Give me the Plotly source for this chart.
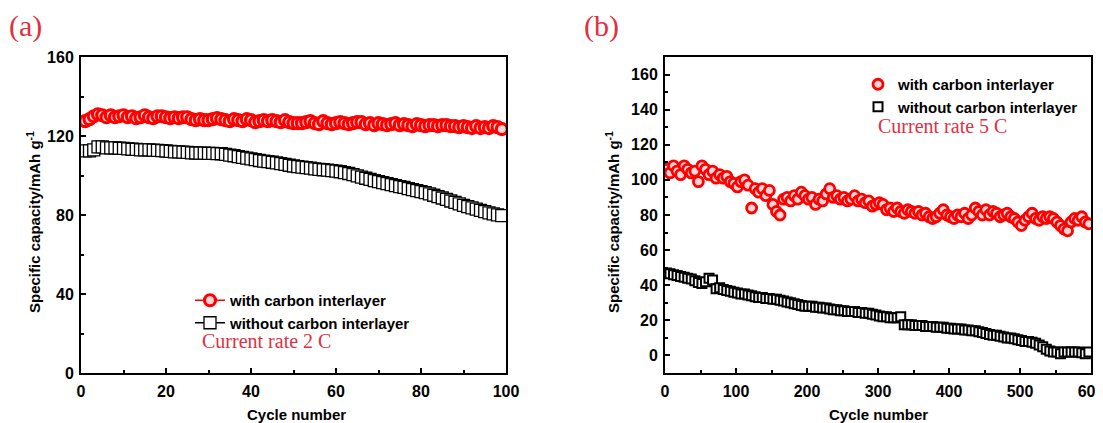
import plotly.graph_objects as go

# ---------------- Panel (a): 2 C ----------------
cycles_a = list(range(1, 100))
with_a = [127.5, 128.5, 130, 131, 130.5, 129.5, 130.5, 129.5, 130, 130.5,
          129.5, 130, 129, 129.5, 130.5, 129.5, 129, 130, 130, 129.5,
          129, 129.5, 129, 129.5, 129.5, 128.5, 128, 128.5, 128, 128,
          128.5, 129, 128.5, 128, 127.5, 128.5, 128, 127.5, 128.5, 128,
          127, 127.5, 128, 127.5, 128, 127.5, 127, 128, 127, 126.5,
          126.5, 126.5, 127, 127.5, 126.5, 126, 127.5, 126.5, 126, 126.5,
          127, 126.5, 126, 126.5, 127, 127, 126, 126.5, 125.5, 126.5,
          126, 125.5, 126, 126.5, 125.5, 126, 125.5, 125, 126, 125.5,
          125, 125.5, 125.5, 125, 125.5, 125.5, 125, 125, 124.5, 125,
          124.5, 124, 125, 124, 124.5, 124, 125, 124.5, 123.5]
without_a = [112.5, 112.5, 113, 114.5, 114.5, 114, 114, 114, 113.8, 113.7,
             113.5, 113.3, 113.2, 113, 113, 113, 112.8, 112.7, 112.6, 112.4,
             112.2, 112, 112, 111.8, 111.7, 111.5, 111.4, 111.3, 111.3, 111.2,
             111.2, 111.1, 111, 110.7, 110.3, 110, 109.6, 109.2, 108.8, 108.4,
             108, 107.6, 107.3, 107, 106.7, 106.4, 106, 105.6, 105.2, 104.8,
             104.5, 104.2, 104, 103.7, 103.4, 103.1, 102.9, 102.7, 102.5, 102.2,
             101.9, 101.5, 101, 100.4, 99.8, 99.2, 98.6, 98, 97.4, 96.9,
             96.4, 95.9, 95.4, 94.9, 94.4, 94, 93.4, 92.8, 92.3, 91.8,
             91.3, 90.7, 90, 89.3, 88.6, 87.9, 87.1, 86.4, 85.6, 84.9,
             84.2, 83.6, 83, 82.3, 81.7, 81.1, 80.6, 80.1, 79.7]

# ---------------- Panel (b): 5 C ----------------
cycles_b = list(range(2, 600, 5))
with_b = [106, 104, 108, 105, 103, 108, 106, 104, 105, 99,
          108, 106, 103, 105, 101, 103, 101, 102, 99, 98,
          96, 99, 100, 97, 84, 95, 93, 95, 91, 94,
          86, 82, 80, 89, 90, 88, 91, 89, 93, 91,
          89, 90, 86, 89, 88, 92, 95, 90, 91, 89,
          90, 88, 89, 91, 88, 89, 87, 88, 85, 86,
          87, 86, 83, 84, 82, 84, 82, 81, 83, 82,
          81, 82, 80, 81, 79, 78, 79, 81, 83, 80,
          79, 78, 80, 79, 81, 78, 80, 84, 82, 80,
          83, 80, 82, 81, 79, 80, 81, 79, 78, 76,
          74, 77, 79, 81, 78, 77, 79, 78, 79, 78,
          76, 74, 72, 71, 76, 78, 77, 79, 76, 75]
without_b = [47, 46.5, 46, 45.5, 45, 44.5, 44, 43.5, 42.5, 41.5,
             41, 42, 44, 43, 38, 38.5, 37.5, 37, 36.5, 36,
             35.5, 35, 35, 34.5, 34, 33.5, 33, 33, 32.5, 32.5,
             32, 32, 31.5, 31, 30.5, 30, 29.5, 29, 28.5, 28,
             28, 28, 27.5, 27.5, 27, 27, 26.5, 26, 26, 25.5,
             25.5, 25, 25, 25, 24.5, 24.5, 24, 24, 23.5, 23,
             22.5, 22, 22, 21.5, 21.5, 21.5, 22, 17.5, 17.5, 17.5,
             17, 17, 17, 16.5, 16.5, 16.5, 16, 16, 16, 15.5,
             15.5, 15, 15, 15, 14.5, 14.5, 14, 14, 13.5, 13,
             12.5, 12, 11.5, 11.5, 11, 10.5, 10, 10, 9.5, 9,
             8.5, 8, 8, 7.5, 7, 6, 5, 3.5, 2.5, 2,
             2, 1, 2, 2, 2, 2, 2, 1.5, 1, 2]

names = ["with carbon interlayer", "without carbon interlayer"]
panel_labels = ["(a)", "(b)"]
rate_labels = ["Current rate 2 C", "Current rate 5 C"]
x_title = "Cycle number"
y_title = "Specific capacity/mAh g<sup>-1</sup>"

# page body has an 8px margin -> shift everything up/left by it
OFF = 8
W, H = 1103 - OFF, 423 - OFF
ML = 81 - OFF
MT = 57 - OFF
MR = W - (1091 - OFF)
MB = H - (373 - OFF)
PW, PH = W - ML - MR, H - MT - MB


def px(x):
    return (x - OFF - ML) / PW


def py(y):
    return (H - MB - (y - OFF)) / PH


RED = "#ff0000"
TXT_RED = "#e0303f"
SANS = "Liberation Sans, Arial, sans-serif"
SERIF = "Liberation Serif, Times New Roman, serif"

fig = go.Figure()

fig.add_trace(go.Scatter(
    x=cycles_a, y=with_a, name=names[0], mode="lines+markers",
    line=dict(color=RED, width=1.5),
    marker=dict(symbol="circle", size=11, color="#ffd6d6", line=dict(color=RED, width=3.2)),
    xaxis="x", yaxis="y", legend="legend"))
fig.add_trace(go.Scatter(
    x=cycles_a, y=without_a, name=names[1], mode="lines+markers",
    line=dict(color="black", width=1.5),
    marker=dict(symbol="square", size=12, color="white", line=dict(color="black", width=1.3)),
    xaxis="x", yaxis="y", legend="legend"))

fig.add_trace(go.Scatter(
    x=cycles_b, y=with_b, name=names[0], mode="markers",
    marker=dict(symbol="circle", size=10, color="#ffd6d6", line=dict(color=RED, width=2.8)),
    xaxis="x2", yaxis="y2", legend="legend2"))
fig.add_trace(go.Scatter(
    x=cycles_b, y=without_b, name=names[1], mode="markers",
    marker=dict(symbol="square", size=9, color="white", line=dict(color="black", width=2)),
    xaxis="x2", yaxis="y2", legend="legend2"))

axis_common = dict(
    showline=True, linecolor="black", linewidth=2, mirror=True,
    ticks="inside", ticklen=5, tickwidth=1.5, tickcolor="black",
    showgrid=False, zeroline=False, automargin=False, ticklabeloverflow="allow",
    tickfont=dict(family=SANS, size=16, color="black", weight="bold"),
)
minor_common = dict(ticks="inside", ticklen=3, tickwidth=1.5, tickcolor="black")

fig.update_layout(
    width=W, height=H,
    margin=dict(l=ML, r=MR, t=MT, b=MB),
    paper_bgcolor="white", plot_bgcolor="white",
    xaxis=dict(domain=[0, (506 - 81) / PW], range=[0, 100], tickvals=[0, 20, 40, 60, 80, 100],
               minor=dict(dtick=10, **minor_common),
               anchor="y", ticklabelstandoff=3, **axis_common),
    yaxis=dict(domain=[0, 1], range=[0, 160], tickvals=[0, 40, 80, 120, 160],
               minor=dict(dtick=20, **minor_common),
               anchor="x", ticklabelstandoff=2, **axis_common),
    xaxis2=dict(domain=[(665 - 81) / PW, 1], range=[0, 600], tickvals=[0, 100, 200, 300, 400, 500, 600],
                minor=dict(dtick=50, **minor_common),
                anchor="y2", ticklabelstandoff=3, **axis_common),
    yaxis2=dict(domain=[0, 1], range=[-10, 170], tickvals=list(range(0, 161, 20)),
                minor=dict(dtick=10, **minor_common),
                anchor="x2", ticklabelstandoff=2, **axis_common),
    legend=dict(x=px(190), y=py(284), xanchor="left", yanchor="top",
                bgcolor="rgba(0,0,0,0)", borderwidth=0, tracegroupgap=0,
                font=dict(family=SANS, size=15, color="black", weight="bold")),
    legend2=dict(x=px(858), y=py(68), xanchor="left", yanchor="top",
                 bgcolor="rgba(0,0,0,0)", borderwidth=0, tracegroupgap=0,
                 font=dict(family=SANS, size=15, color="black", weight="bold")),
    showlegend=True,
)

annotations = [
    dict(text=panel_labels[0], x=px(7), y=py(26), xanchor="left", yanchor="middle",
         font=dict(family=SERIF, size=30, color=TXT_RED)),
    dict(text=panel_labels[1], x=px(582), y=py(26), xanchor="left", yanchor="middle",
         font=dict(family=SERIF, size=30, color=TXT_RED)),
    dict(text=rate_labels[0], x=px(200), y=py(341), xanchor="left", yanchor="middle",
         font=dict(family=SERIF, size=20, color=TXT_RED)),
    dict(text=rate_labels[1], x=px(876), y=py(126), xanchor="left", yanchor="middle",
         font=dict(family=SERIF, size=20, color=TXT_RED)),
    dict(text=x_title, x=px(296), y=py(414), xanchor="center", yanchor="middle",
         font=dict(family=SANS, size=15, color="black", weight="bold")),
    dict(text=x_title, x=px(878), y=py(414), xanchor="center", yanchor="middle",
         font=dict(family=SANS, size=15, color="black", weight="bold")),
    dict(text=y_title, x=px(33), y=py(222), xanchor="center", yanchor="middle", textangle=-90,
         font=dict(family=SANS, size=15, color="black", weight="bold")),
    dict(text=y_title, x=px(612), y=py(222), xanchor="center", yanchor="middle", textangle=-90,
         font=dict(family=SANS, size=15, color="black", weight="bold")),
]
for a in annotations:
    a.update(xref="paper", yref="paper", showarrow=False)
fig.update_layout(annotations=annotations)

fig.write_html("out.html")
